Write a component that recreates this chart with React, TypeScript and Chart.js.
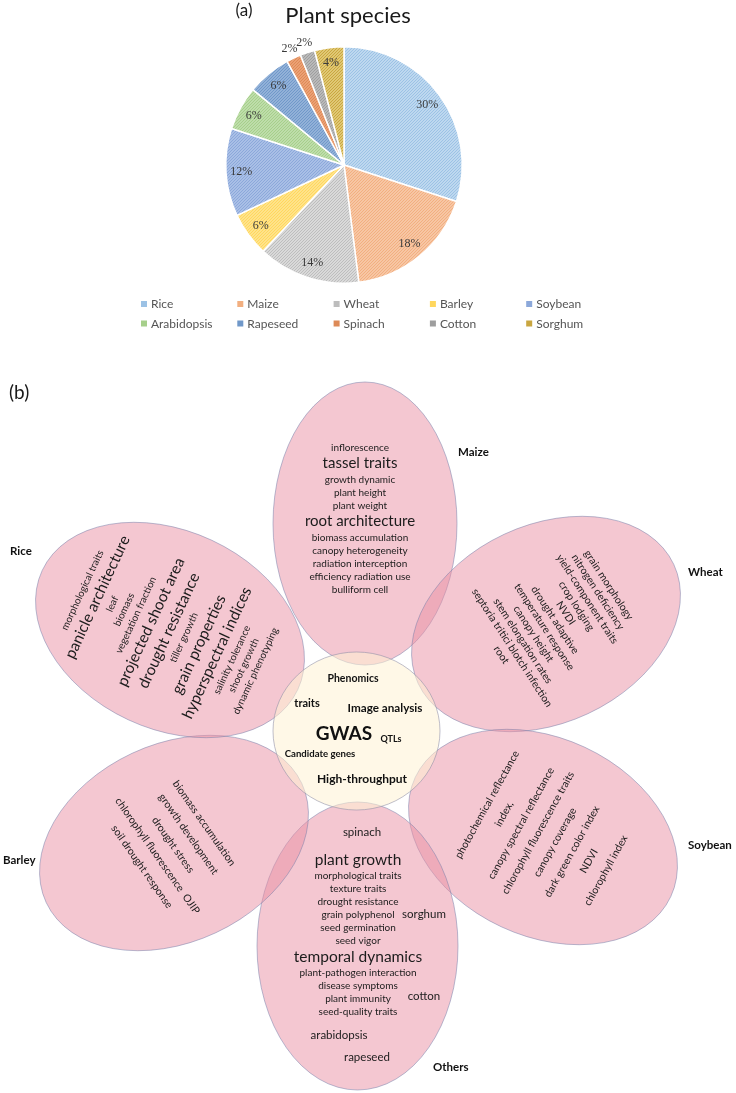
import React, { useEffect, useRef } from 'react';
import { Chart, registerables } from 'chart.js';

Chart.register(...registerables);

// ---------------- (a) Plant species pie ----------------
const speciesLabels = ['Rice', 'Maize', 'Wheat', 'Barley', 'Soybean', 'Arabidopsis', 'Rapeseed', 'Spinach', 'Cotton', 'Sorghum'];
const speciesPercent = [30, 18, 14, 6, 12, 6, 6, 2, 2, 4];
const speciesLight = ['#BED8EF', '#F7C6A4', '#D9D9D9', '#FFE38A', '#A9BFE6', '#BEDDAA', '#92B1D8', '#EBA074', '#B9B9B9', '#E0C874'];
const speciesDark = ['#9CC2E5', '#F2AF80', '#BDBDBD', '#FFD75E', '#8CA8DA', '#A6CF8B', '#7098C9', '#DD8A57', '#9E9E9E', '#C9A640'];

// ---------------- (b) flower diagram ----------------
const petalLabels = ['Maize', 'Wheat', 'Soybean', 'Others', 'Barley', 'Rice'];
const maizeTerms = ['inflorescence', 'tassel traits', 'growth dynamic', 'plant height', 'plant weight', 'root architecture', 'biomass accumulation', 'canopy heterogeneity', 'radiation interception', 'efficiency radiation use', 'bulliform cell'];
const maizeMajor = [0, 1, 0, 0, 0, 1, 0, 0, 0, 0, 0];
const riceTerms = ['morphological traits', 'panicle architecture', 'leaf', 'biomass', 'vegetation fraction', 'projected shoot area', 'drought resistance', 'tiller growth', 'grain properties', 'hyperspectral indices', 'salinity tolerance', 'shoot growth', 'dynamic phenotyping'];
const riceMajor = [0, 1, 0, 0, 0, 1, 1, 0, 1, 1, 0, 0, 0];
const wheatTerms = ['grain morphology', 'nitrogen deficiency', 'yield-component traits', 'crop lodging', 'NVDI', 'drought adaptive', 'temperature response', 'canopy height', 'stem elongation rates', 'septoria tritici blotch infection', 'root'];
const soybeanTerms = ['photochemical reflectance', 'index,', 'canopy spectral reflectance', 'chlorophyll fluorescence traits', 'canopy coverage', 'dark green color index', 'NDVI', 'chlorophyll index'];
const barleyTerms = ['biomass accumulation', 'growth development', 'drought stress', 'chlorophyll fluorescence  OJIP', 'soil drought response'];
const othersTerms = ['plant growth', 'morphological traits', 'texture traits', 'drought resistance', 'grain polyphenol', 'seed germination', 'seed vigor', 'temporal dynamics', 'plant-pathogen interaction', 'disease symptoms', 'plant immunity', 'seed-quality traits'];
const othersMajor = [1, 0, 0, 0, 0, 0, 0, 1, 0, 0, 0, 0];
const othersSpecies = ['spinach', 'sorghum', 'cotton', 'arabidopsis', 'rapeseed'];
const coreTerms = ['Phenomics', 'traits', 'Image analysis', 'GWAS', 'QTLs', 'Candidate genes', 'High-throughput'];

// ---------------- layout (positions / sizes / styles) ----------------
const FONT = 'Lato, "Open Sans", sans-serif';
const TEXT = '#1c1c1c';
const PIE_H = 345;
const TOP2 = PIE_H;
const H2 = 1093 - PIE_H;

const PETAL_GEOM = [
  { cx: 365, cy: 523.5, rx: 92, ry: 141.5, rot: 0 },
  { cx: 546, cy: 624, rx: 141, ry: 99, rot: -25 },
  { cx: 543, cy: 837, rx: 141, ry: 99, rot: 25 },
  { cx: 357.5, cy: 946, rx: 100.5, ry: 144, rot: 0 },
  { cx: 174, cy: 843, rx: 141, ry: 99, rot: -25 },
  { cx: 170, cy: 630, rx: 141, ry: 99, rot: 25 },
];
const PETAL_LABEL_POS = [
  [458, 452], [688, 572], [688, 845], [433, 1067], [3, 860], [10, 551],
];
const CORE_GEOM = { cx: 356.5, cy: 731, rx: 83.5, ry: 79 };
const CORE_POS = [
  [353, 679, 10.5], [307, 703, 11], [385, 708, 11.7], [344, 734, 19], [391, 739, 9], [320, 754, 9.6], [362, 779, 12],
];
const SPECIES_POS = [[362, 832], [424, 914], [424, 996], [339, 1035], [367, 1057]];

function makePattern(light: string, dark: string) {
  const c = document.createElement('canvas');
  c.width = 3;
  c.height = 3;
  const g = c.getContext('2d')!;
  g.fillStyle = light;
  g.fillRect(0, 0, 3, 3);
  g.fillStyle = dark;
  for (let y = 0; y < 3; y++) for (let x = 0; x < 3; x++) if ((x + y) % 3 === 0) g.fillRect(x, y, 1, 1);
  return g.createPattern(c, 'repeat')!;
}

function drawBlock(
  ctx: CanvasRenderingContext2D,
  px: (v: number) => number,
  py: (v: number) => number,
  terms: string[],
  major: number[] | null,
  cx: number,
  cy: number,
  angleDeg: number,
  smallSize: number,
  bigSize: number,
  hSmall: number,
  hBig: number
) {
  const hs = terms.map((_, i) => (major && major[i] ? hBig : hSmall));
  const ys: number[] = [0];
  for (let i = 1; i < terms.length; i++) ys.push(ys[i - 1] + (hs[i - 1] + hs[i]) / 2);
  const shift = ys[ys.length - 1] / 2;
  ctx.save();
  ctx.translate(px(cx), py(cy));
  ctx.rotate((angleDeg * Math.PI) / 180);
  ctx.textAlign = 'center';
  ctx.textBaseline = 'middle';
  ctx.fillStyle = TEXT;
  terms.forEach((t, i) => {
    const big = major && major[i];
    ctx.font = `${big ? bigSize : smallSize}px ${FONT}`;
    ctx.fillText(t, 0, ys[i] - shift);
  });
  ctx.restore();
}

const piePlugin = {
  id: 'pieDecor',
  afterDraw(chart: any) {
    const ctx: CanvasRenderingContext2D = chart.ctx;
    ctx.save();
    ctx.fillStyle = '#1a1a1a';
    ctx.textAlign = 'center';
    ctx.textBaseline = 'middle';
    ctx.font = `22px ${FONT}`;
    ctx.fillText('Plant species', 348, 16);
    ctx.font = `17px ${FONT}`;
    ctx.fillText('(a)', 244, 11);

    const meta = chart.getDatasetMeta(0);
    ctx.font = '12px "Liberation Serif", "Times New Roman", serif';
    ctx.fillStyle = '#3a3a3a';
    meta.data.forEach((arc: any, i: number) => {
      const mid = (arc.startAngle + arc.endAngle) / 2;
      const v = speciesPercent[i];
      const r = v <= 2 ? arc.outerRadius + 10 : arc.outerRadius * 0.87;
      ctx.fillText(`${v}%`, arc.x + Math.cos(mid) * r, arc.y + Math.sin(mid) * r);
    });

    ctx.textAlign = 'left';
    ctx.font = `12px ${FONT}`;
    speciesLabels.forEach((lab, i) => {
      const col = i % 5;
      const row = Math.floor(i / 5);
      const x = 141 + col * 96.3;
      const y = 304 + row * 19.5;
      ctx.fillStyle = speciesDark[i];
      ctx.fillRect(x, y - 3, 6, 6);
      ctx.fillStyle = '#555555';
      ctx.fillText(lab, x + 10, y + 0.5);
    });
    ctx.restore();
  },
};

const flowerPlugin = {
  id: 'flowerDecor',
  afterDraw(chart: any) {
    const ctx: CanvasRenderingContext2D = chart.ctx;
    const xs = chart.scales.x;
    const ys = chart.scales.y;
    const px = (v: number) => xs.getPixelForValue(v);
    const py = (v: number) => ys.getPixelForValue(v);
    const kx = px(1) - px(0);
    const ky = py(1) - py(0);
    ctx.save();

    PETAL_GEOM.forEach((p) => {
      ctx.beginPath();
      ctx.ellipse(px(p.cx), py(p.cy), p.rx * kx, p.ry * ky, (p.rot * Math.PI) / 180, 0, Math.PI * 2);
      ctx.fillStyle = 'rgba(233,143,163,0.5)';
      ctx.fill();
      ctx.lineWidth = 0.8;
      ctx.strokeStyle = 'rgba(120,128,170,0.65)';
      ctx.stroke();
    });

    ctx.beginPath();
    ctx.ellipse(px(CORE_GEOM.cx), py(CORE_GEOM.cy), CORE_GEOM.rx * kx, CORE_GEOM.ry * ky, 0, 0, Math.PI * 2);
    ctx.fillStyle = 'rgba(255,243,212,0.55)';
    ctx.fill();
    ctx.lineWidth = 0.8;
    ctx.strokeStyle = 'rgba(140,140,165,0.7)';
    ctx.stroke();

    ctx.fillStyle = '#1a1a1a';
    ctx.textAlign = 'left';
    ctx.textBaseline = 'middle';
    ctx.font = `19px ${FONT}`;
    ctx.fillText('(b)', px(9), py(393));

    ctx.font = `bold 11.5px ${FONT}`;
    ctx.fillStyle = '#111';
    petalLabels.forEach((l, i) => ctx.fillText(l, px(PETAL_LABEL_POS[i][0]), py(PETAL_LABEL_POS[i][1])));

    drawBlock(ctx, px, py, maizeTerms, maizeMajor, 360, 518.5, 0, 10, 15, 13, 19);
    drawBlock(ctx, px, py, wheatTerms, null, 555, 620, 57, 10.5, 10.5, 12.8, 12.8);
    drawBlock(ctx, px, py, soybeanTerms, null, 546.5, 837.5, -61, 10.5, 10.5, 19.4, 19.4);
    drawBlock(ctx, px, py, barleyTerms, null, 173, 845, 55, 10.5, 10.5, 19, 19);
    drawBlock(ctx, px, py, riceTerms, riceMajor, 169, 630.5, -65, 10, 15.5, 13, 20);
    drawBlock(ctx, px, py, othersTerms, othersMajor, 358, 936, 0, 10, 15.5, 13, 19);

    ctx.textAlign = 'center';
    ctx.textBaseline = 'middle';
    ctx.fillStyle = TEXT;
    ctx.font = `11.5px ${FONT}`;
    othersSpecies.forEach((s, i) => ctx.fillText(s, px(SPECIES_POS[i][0]), py(SPECIES_POS[i][1])));

    ctx.fillStyle = '#111';
    coreTerms.forEach((t, i) => {
      const [x, y, size] = CORE_POS[i];
      ctx.font = `bold ${size}px ${FONT}`;
      ctx.fillText(t, px(x), py(y));
    });

    ctx.restore();
  },
};

export default function App() {
  const pieRef = useRef<HTMLCanvasElement>(null);
  const flowerRef = useRef<HTMLCanvasElement>(null);

  useEffect(() => {
    document.body.style.margin = '0';
    document.body.style.overflow = 'hidden';
    const patterns = speciesLight.map((l, i) => makePattern(l, speciesDark[i]));

    const pie = new Chart(pieRef.current!, {
      type: 'pie',
      data: {
        labels: speciesLabels,
        datasets: [
          {
            data: speciesPercent,
            backgroundColor: patterns as any,
            borderColor: '#ffffff',
            borderWidth: 1.5,
          },
        ],
      },
      options: {
        animation: false,
        responsive: false,
        events: [],
        layout: { padding: { left: 225, right: 273, top: 46, bottom: PIE_H - 284 } },
        plugins: { legend: { display: false }, tooltip: { enabled: false }, title: { display: false } },
      },
      plugins: [piePlugin],
    });

    const flower = new Chart(flowerRef.current!, {
      type: 'scatter',
      data: {
        labels: petalLabels,
        datasets: [
          {
            data: PETAL_GEOM.map((p) => ({ x: p.cx, y: p.cy })),
            pointRadius: 0,
          },
        ],
      },
      options: {
        animation: false,
        responsive: false,
        events: [],
        layout: { padding: 0 },
        scales: {
          x: { type: 'linear', min: 0, max: 736, display: false },
          y: { type: 'linear', min: TOP2, max: 1093, reverse: true, display: false },
        },
        plugins: { legend: { display: false }, tooltip: { enabled: false } },
      },
      plugins: [flowerPlugin],
    });

    return () => {
      pie.destroy();
      flower.destroy();
    };
  }, []);

  return (
    <div style={{ position: 'relative', width: 736, height: 1093, background: '#ffffff', overflow: 'hidden' }}>
      <canvas ref={pieRef} width={736} height={PIE_H} style={{ position: 'absolute', left: 0, top: 0, width: 736, height: PIE_H }} />
      <canvas ref={flowerRef} width={736} height={H2} style={{ position: 'absolute', left: 0, top: TOP2, width: 736, height: H2 }} />
    </div>
  );
}
